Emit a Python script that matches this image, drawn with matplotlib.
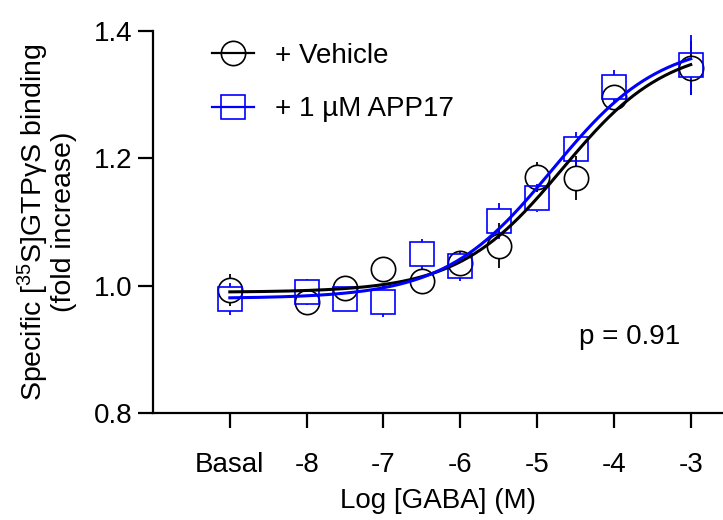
import numpy as np
import matplotlib
matplotlib.use("Agg")
import matplotlib.pyplot as plt

plt.rcParams['font.family'] = ['Liberation Sans', 'DejaVu Sans']
plt.rcParams['mathtext.fontset'] = 'custom'
plt.rcParams['mathtext.rm'] = 'Liberation Sans'
plt.rcParams['mathtext.it'] = 'Liberation Sans:italic'

# ---- data ----
log_gaba = [-9, -8, -7.5, -7, -6.5, -6, -5.5, -5, -4.5, -4, -3]   # -9 = Basal position
vehicle_mean = [0.993, 0.975, 0.996, 1.026, 1.008, 1.035, 1.063, 1.171, 1.169, 1.296, 1.342]
vehicle_err = [0.025, 0.008, 0.006, 0.006, 0.020, 0.008, 0.035, 0.024, 0.034, 0.010, 0.043]
app17_mean = [0.979, 0.990, 0.979, 0.975, 1.050, 1.031, 1.102, 1.137, 1.214, 1.312, 1.347]
app17_err = [0.025, 0.021, 0.006, 0.025, 0.024, 0.024, 0.028, 0.022, 0.028, 0.026, 0.047]
xtick_pos = [-9, -8, -7, -6, -5, -4, -3]
xtick_labels = ['Basal', '-8', '-7', '-6', '-5', '-4', '-3']
yticks = [0.8, 1.0, 1.2, 1.4]
p_text = 'p = 0.91'


def fit_sigmoid(x, y):
    x = np.asarray(x, float)
    y = np.asarray(y, float)
    best = None
    for c in np.linspace(-7, -3, 401):
        for h in np.linspace(0.4, 2.0, 81):
            s = 1.0 / (1.0 + 10 ** ((c - x) * h))
            A = np.vstack([np.ones_like(s), s]).T
            coef, *_ = np.linalg.lstsq(A, y, rcond=None)
            r = np.sum((A @ coef - y) ** 2)
            if best is None or r < best[0]:
                best = (r, c, h, coef)
    _, c, h, coef = best
    return lambda xx: coef[0] + coef[1] / (1.0 + 10 ** ((c - xx) * h))


DPI = 100
fig = plt.figure(figsize=(7.23, 5.20), dpi=DPI)
ax_rect = [0.2116, 0.2058, 0.7884, 0.7346]
ax = fig.add_axes(ax_rect)
ylim = (0.8, 1.4)
ax.set_xlim(-10, -2.58)
ax.set_ylim(*ylim)

MS = 17.5
# marker half-height in data units (error bars drawn only outside the marker)
px_per_unit = (5.20 * DPI * ax_rect[3]) / (ylim[1] - ylim[0])
half = (MS / 2 * DPI / 72) / px_per_unit

xx = np.linspace(-9, -3, 300)
series = [
    (vehicle_mean, vehicle_err, 'black', 'o', '+ Vehicle'),
    (app17_mean, app17_err, '#0000ff', 's', '+ 1 µM APP17'),
]
handles = []
for mean, err, col, mk, lab in series:
    f = fit_sigmoid(log_gaba, mean)
    for xi, mi, ei in zip(log_gaba, mean, err):
        if ei > half:
            ax.vlines([xi, xi], [mi + half, mi - ei], [mi + ei, mi - half],
                      color=col, lw=1.3, zorder=3, clip_on=False)
    ax.plot(log_gaba, mean, linestyle='none', marker=mk, markersize=MS,
            markerfacecolor='none', markeredgecolor=col, markeredgewidth=1.2,
            clip_on=False, zorder=4)
    ax.plot(xx, f(xx), color=col, lw=2.2, zorder=5, clip_on=False)
    h, = ax.plot([], [], color=col, lw=1.6, marker=mk, markersize=MS,
                 markerfacecolor='none', markeredgecolor=col, markeredgewidth=1.2)
    handles.append((h, lab))

ax.set_xticks(xtick_pos)
ax.set_xticklabels(xtick_labels)
ax.set_yticks(yticks)
ax.set_yticklabels([f'{v:.1f}' for v in yticks])

for s in ['top', 'right']:
    ax.spines[s].set_visible(False)
for s in ['left', 'bottom']:
    ax.spines[s].set_linewidth(1.6)
ax.tick_params(axis='both', labelsize=20, width=1.6, length=11, color='black')
ax.tick_params(axis='x', pad=17)
ax.tick_params(axis='y', pad=4)

ax.set_xlabel('Log [GABA] (M)', fontsize=20, labelpad=7)
ax.set_ylabel('Specific [$^{35}$S]GTPγS binding\n(fold increase)', fontsize=20.5,
              labelpad=12, linespacing=1.0)

ax.legend([h for h, _ in handles], [l for _, l in handles], loc='upper left',
          bbox_to_anchor=(0.06, 1.035), frameon=False, fontsize=20,
          handlelength=1.5, handletextpad=0.75, labelspacing=1.0)

ax.text(-3.8, 0.92, p_text, fontsize=20, ha='center', va='center')

fig.savefig('out.png', dpi=DPI)
